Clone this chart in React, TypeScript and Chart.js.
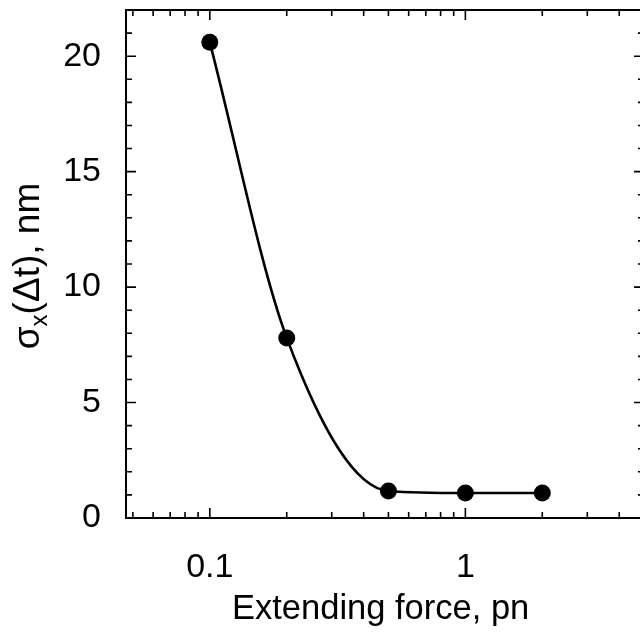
import { useEffect, useRef } from "react";
import { Chart, registerables } from "chart.js";

Chart.register(...registerables);

// ---- data ----
const forces = [0.1, 0.2, 0.5, 1, 2];
const sigmaValues = [20.6, 7.8, 1.17, 1.08, 1.08];

const xTickLabels = [0.1, 1];
const xMinorTicks = [0.05, 0.06, 0.07, 0.08, 0.09, 0.2, 0.3, 0.4, 0.5, 0.6, 0.7, 0.8, 0.9, 2, 3, 4, 5];
const yTickLabels = [0, 5, 10, 15, 20];
const yMinorTicks = [1, 2, 3, 4, 6, 7, 8, 9, 11, 12, 13, 14, 16, 17, 18, 19, 21, 22];

const xTitle = "Extending force, pn";
const yTitleParts = ["σ", "x", "(Δt), nm"];

const FONT = "'Liberation Sans', Arial, Helvetica, sans-serif";
const CANVAS_W = 660;
const CANVAS_H = 637;

const annotationsPlugin = {
  id: "inwardTicksAndTitles",
  afterDraw(chart: any) {
    const { ctx, chartArea: a, scales } = chart;
    const xs = scales.x;
    const ys = scales.y;
    ctx.save();
    ctx.strokeStyle = "#000";
    ctx.lineWidth = 1.6;
    const drawX = (v: number, len: number) => {
      const px = xs.getPixelForValue(v);
      if (px < a.left - 0.5 || px > a.right + 0.5) return;
      ctx.beginPath();
      ctx.moveTo(px, a.bottom);
      ctx.lineTo(px, a.bottom - len);
      ctx.moveTo(px, a.top);
      ctx.lineTo(px, a.top + len);
      ctx.stroke();
    };
    const drawY = (v: number, len: number) => {
      const py = ys.getPixelForValue(v);
      if (py < a.top - 0.5 || py > a.bottom + 0.5) return;
      ctx.beginPath();
      ctx.moveTo(a.left, py);
      ctx.lineTo(a.left + len, py);
      ctx.moveTo(a.right, py);
      ctx.lineTo(a.right - len, py);
      ctx.stroke();
    };
    xTickLabels.forEach((v) => drawX(v, 10));
    xMinorTicks.forEach((v) => drawX(v, 6));
    yTickLabels.forEach((v) => drawY(v, 10));
    yMinorTicks.forEach((v) => drawY(v, 6));

    // x title
    ctx.fillStyle = "#000";
    ctx.font = `34.5px ${FONT}`;
    ctx.textAlign = "left";
    ctx.textBaseline = "alphabetic";
    ctx.fillText(xTitle, 232, 619);

    // y title with subscript
    const big = `37px ${FONT}`;
    const small = `24px ${FONT}`;
    ctx.font = big;
    const w0 = ctx.measureText(yTitleParts[0]).width;
    const w2 = ctx.measureText(yTitleParts[2]).width;
    ctx.font = small;
    const w1 = ctx.measureText(yTitleParts[1]).width;
    const total = w0 + w1 + w2;
    ctx.translate(39, 266);
    ctx.rotate(-Math.PI / 2);
    let cx = -total / 2;
    ctx.font = big;
    ctx.fillText(yTitleParts[0], cx, 0);
    cx += w0;
    ctx.font = small;
    ctx.fillText(yTitleParts[1], cx, 8);
    cx += w1;
    ctx.font = big;
    ctx.fillText(yTitleParts[2], cx, 0);
    ctx.restore();
  },
};

export default function App() {
  const ref = useRef<HTMLCanvasElement | null>(null);

  useEffect(() => {
    if (!ref.current) return;
    const noPad = (s: any) => {
      s.paddingTop = 0;
      s.paddingBottom = 0;
      s.paddingLeft = 0;
      s.paddingRight = 0;
    };
    const chart = new Chart(ref.current, {
      type: "line",
      data: {
        datasets: [
          {
            data: forces.map((x, i) => ({ x, y: sigmaValues[i] })),
            borderColor: "#000",
            borderWidth: 2.6,
            backgroundColor: "#000",
            pointRadius: 8.5,
            pointHoverRadius: 8.5,
            pointBorderWidth: 0,
            pointBackgroundColor: "#000",
            cubicInterpolationMode: "monotone",
            fill: false,
          },
        ],
      },
      options: {
        animation: false,
        responsive: false,
        devicePixelRatio: 1,
        layout: { padding: 0, autoPadding: false },
        plugins: { legend: { display: false }, tooltip: { enabled: false } },
        scales: {
          x: {
            type: "logarithmic",
            position: "bottom",
            min: 0.047,
            max: 5.0,
            grid: { display: false },
            border: { display: true, color: "#000", width: 2 },
            afterBuildTicks: (s: any) => {
              s.ticks = xTickLabels.map((v) => ({ value: v }));
            },
            afterFit: (s: any) => {
              s.height = CANVAS_H - 518;
              noPad(s);
            },
            ticks: {
              autoSkip: false,
              maxRotation: 0,
              color: "#000",
              padding: 21,
              font: { family: FONT, size: 34 },
              callback: (v: any) => String(v),
            },
          },
          x2: {
            type: "logarithmic",
            position: "top",
            min: 0.047,
            max: 5.0,
            grid: { display: false },
            border: { display: true, color: "#000", width: 2 },
            ticks: { display: false },
            afterFit: (s: any) => {
              s.height = 10;
              noPad(s);
            },
          },
          y: {
            type: "linear",
            position: "left",
            min: 0,
            max: 22,
            grid: { display: false },
            border: { display: true, color: "#000", width: 2 },
            afterBuildTicks: (s: any) => {
              s.ticks = yTickLabels.map((v) => ({ value: v }));
            },
            afterFit: (s: any) => {
              s.width = 126;
              noPad(s);
            },
            ticks: {
              color: "#000",
              padding: 17,
              font: { family: FONT, size: 34 },
              callback: (v: any) => String(v),
            },
          },
          y2: {
            type: "linear",
            position: "right",
            min: 0,
            max: 22,
            grid: { display: false },
            border: { display: true, color: "#000", width: 2 },
            ticks: { display: false },
            afterFit: (s: any) => {
              s.width = CANVAS_W - 644;
              noPad(s);
            },
          },
        },
      },
      plugins: [annotationsPlugin],
    } as any);
    return () => chart.destroy();
  }, []);

  return (
    <div
      style={{
        position: "absolute",
        left: 0,
        top: 0,
        width: 640,
        height: 637,
        overflow: "hidden",
        background: "#fff",
      }}
    >
      <canvas
        ref={ref}
        width={CANVAS_W}
        height={CANVAS_H}
        style={{ width: CANVAS_W, height: CANVAS_H, display: "block" }}
      />
    </div>
  );
}
